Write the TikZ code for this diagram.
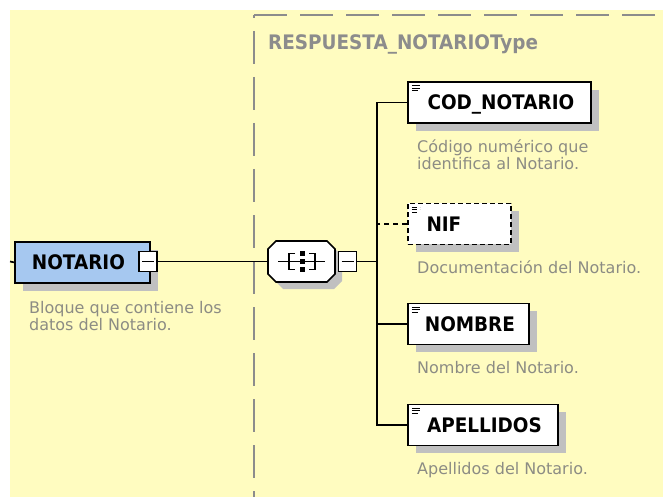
\documentclass[tikz,border=0pt]{standalone}
\usepackage{fontspec}
\setmainfont{DejaVu Sans}
\newfontfamily\lblfont[FakeStretch=0.92]{DejaVu Sans Bold}
\usetikzlibrary{shadows}
\definecolor{bgyellow}{HTML}{FFFCC0}
\definecolor{framegray}{HTML}{8C8C8C}
\definecolor{descgray}{HTML}{8C8C84}
\definecolor{shadowgray}{HTML}{C0C0C0}
\definecolor{notblue}{HTML}{A6C8F0}
\begin{document}
\begin{tikzpicture}[x=1pt,y=-1pt,
  lbl/.style={font=\lblfont\fontsize{20}{20}\selectfont, text height=14.6pt, text depth=0pt},
  shad/.style={drop shadow={shadow xshift=8pt, shadow yshift=-8pt, fill=shadowgray, opacity=1}},
  elembox/.style={lbl, shad, draw=black, line width=1.8pt, fill=white, minimum height=41pt,
    anchor=north west, inner sep=0pt,
    path picture={\foreach \dy/\len in {4/8,6.5/8,9/6}{\draw[line width=0.9pt] ([shift={(4,\dy)}]path picture bounding box.north west) -- ++(\len,0);}}},
  optbox/.style={elembox, dash pattern=on 5pt off 3pt},
  notbox/.style={lbl, shad, draw=black, line width=1.8pt, fill=notblue, minimum height=41pt,
    minimum width=135pt, anchor=north west, inner sep=0pt},
  minusbox/.style={draw=black, line width=1.6pt, fill=white, minimum width=18pt, minimum height=20pt, inner sep=0pt,
    path picture={\draw[line width=1.6pt] ([xshift=3pt]path picture bounding box.west) -- ([xshift=-3pt]path picture bounding box.east);}},
  desc/.style={font=\fontsize{16}{17}\selectfont, text=descgray, anchor=base west, inner sep=0pt},
  conn/.style={line width=1.7pt, draw=black},
  hdr/.style={font=\lblfont\fontsize{20}{20}\selectfont, text=framegray, anchor=base west, inner sep=0pt}
]
\useasboundingbox (0,0) rectangle (663,497);
\fill[bgyellow] (10,10) rectangle (663,497);

% type frame
\draw[framegray, line width=1.5pt, dash pattern=on 33pt off 13pt] (254,15) -- (670,15);
\draw[framegray, line width=1.5pt, dash pattern=on 33pt off 13pt, dash phase=30pt] (254,15) -- (254,505);
\node[hdr] (hdr) at (268,50) {RESPUESTA\_NOTARIOType};

% NOTARIO element
\node[notbox] (notario) at (14,241) {\hspace*{-8pt}NOTARIO};
\node[minusbox] (m1) at (148,261.5) {};
\coordinate (stub) at (10,261.5);
\draw[conn] (stub) -- (notario.west);
\node[desc] (d1a) at (29,313) {Bloque que contiene los};
\node[desc] (d1b) at (29,330) {datos del Notario.};

% sequence compositor
\fill[shadowgray] (283,248) -- (334,248) -- (342,256) -- (342,281) -- (334,289) -- (283,289) -- (275,281) -- (275,256) -- cycle;
\filldraw[fill=white, draw=black, line width=1.6pt] (276,241) -- (327,241) -- (335,249) -- (335,274) -- (327,282) -- (276,282) -- (268,274) -- (268,249) -- cycle;
\node[inner sep=0pt, minimum width=67pt, minimum height=41pt] (seq) at (301.5,261.5) {};
\draw[line width=1.3pt] (278,261.5) -- (325,261.5);
\draw[line width=1.3pt] (295,253.5) -- (289,253.5) -- (289,269.5) -- (295,269.5);
\draw[line width=1.3pt] (309,253.5) -- (315,253.5) -- (315,269.5) -- (309,269.5);
\foreach \yy in {253.5,261.5,269.5}{\fill[black] (299.5,\yy-2.5) rectangle (304.5,\yy+2.5);}
\node[minusbox] (m2) at (347.5,261.5) {};
\draw[conn] (m1.east) -- (seq.west);
\coordinate (jx) at (377,0);

% children
\node[elembox, minimum width=183pt] (cod) at (407,81) {\hspace*{3pt}COD\_NOTARIO};
\node[desc] (d2a) at (417,153) {Código numérico que};
\node[desc] (d2b) at (417,170) {identifica al Notario.};

\node[optbox, minimum width=103pt] (nif) at (407,202.5) {\hspace*{-31pt}NIF};
\node[desc] (d3) at (417,273.5) {Documentación del Notario.};

\node[elembox, minimum width=121pt] (nombre) at (407,302.5) {\hspace*{3pt}NOMBRE};
\node[desc] (d4) at (417,373.5) {Nombre del Notario.};

\node[elembox, minimum width=150pt] (apell) at (407,403.5) {\hspace*{3pt}APELLIDOS};
\node[desc] (d5) at (417,474.5) {Apellidos del Notario.};

% connectors
\draw[conn] (m2.east) -- (m2.east -| jx);
\draw[conn] (cod.west) -- (cod.west -| jx) -- (apell.west -| jx) -- (apell.west);
\draw[conn] (nombre.west) -- (nombre.west -| jx);
\draw[conn, dash pattern=on 5pt off 4pt] (nif.west) -- (nif.west -| jx);
\end{tikzpicture}
\end{document}
